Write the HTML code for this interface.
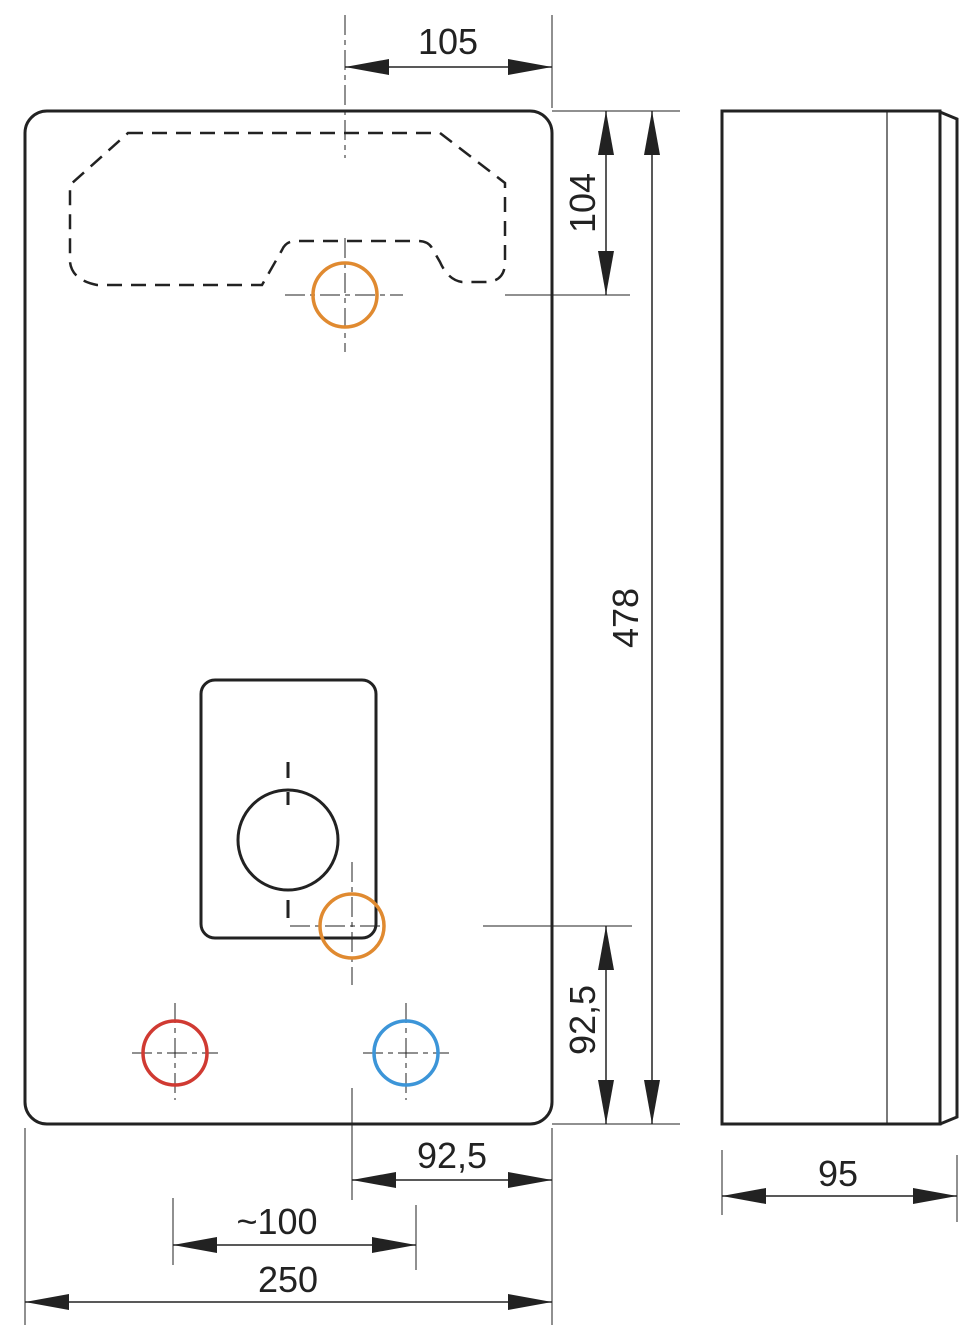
<!DOCTYPE html>
<html><head><meta charset="utf-8"><style>
html,body{margin:0;padding:0;background:#fff}
svg{display:block}
text{font-family:"Liberation Sans",sans-serif;font-size:36px;fill:#222}
</style></head><body>
<svg width="975" height="1344" viewBox="0 0 975 1344" xmlns="http://www.w3.org/2000/svg">
<defs>
<marker id="a" viewBox="0 0 44 16" refX="44" refY="8" markerWidth="44" markerHeight="16" markerUnits="userSpaceOnUse" orient="auto-start-reverse"><path d="M0,0 L44,8 L0,16 Z" fill="#222"/></marker>
</defs>
<g fill="none" stroke="#222">
<!-- main body -->
<rect x="25" y="111" width="527" height="1013" rx="22" stroke-width="3"/>
<!-- dashed cutout -->
<path d="M128,133 L440,133 L505,183 L505,262 Q505,282 485,282 L462,282 Q448,280 440,262 L432,248 Q428,241 418,241 L296,241 Q286,241 282,250 L262,285 L97,285 Q72,280 70,262 L70,185 Z" stroke-width="2.5" stroke-dasharray="15,9"/>
<!-- inner panel -->
<rect x="201" y="680" width="175" height="258" rx="14" stroke-width="3"/>
<circle cx="288" cy="840" r="50" stroke-width="3"/>
<path d="M288,762 V778 M288,792 V805 M288,900 V918" stroke-width="3"/>
<!-- centre lines -->
<g stroke-width="1" stroke-dasharray="20,5,5,5">
<path d="M345,15 V158"/>
<path d="M345,238 V352 M285,295 H403"/>
<path d="M352,862 V985 M290,926 H383"/>
<path d="M175,1003 V1100 M132,1053 H218"/>
<path d="M406,1003 V1100 M363,1053 H449"/>
</g>
<circle cx="345" cy="295" r="32" stroke="#e08a30" stroke-width="3.5"/>
<circle cx="352" cy="926" r="32" stroke="#e08a30" stroke-width="3.5"/>
<circle cx="175" cy="1053" r="32" stroke="#d03a32" stroke-width="3.5"/>
<circle cx="406" cy="1053" r="32" stroke="#3c95d8" stroke-width="3.5"/>
<!-- extension lines -->
<g stroke-width="1">
<path d="M552,15 V108 M552,111 H680 M505,295 H630 M483,926 H632 M552,1124 H680"/>
<path d="M352,1088 V1200 M552,1128 V1310 M25,1128 V1325 M552,1310 V1325 M173,1198 V1265 M416,1205 V1270"/>
<path d="M722,1150 V1215 M957,1155 V1222"/>
</g>
<!-- dimension lines -->
<g stroke-width="1.5" marker-start="url(#a)" marker-end="url(#a)">
<line x1="345" y1="67" x2="552" y2="67"/>
<line x1="606" y1="111" x2="606" y2="295"/>
<line x1="652" y1="111" x2="652" y2="1124"/>
<line x1="606" y1="926" x2="606" y2="1124"/>
<line x1="352" y1="1180" x2="552" y2="1180"/>
<line x1="173" y1="1245" x2="416" y2="1245"/>
<line x1="25" y1="1302" x2="552" y2="1302"/>
<line x1="722" y1="1196" x2="957" y2="1196"/>
</g>
<!-- side view -->
<path d="M722,111 H940 V1124 H722 Z" stroke-width="3"/>
<path d="M887,111 V1124" stroke-width="1.2"/>
<path d="M940,112 L957,119 V1117 L940,1124" stroke-width="3"/>
</g>
<g>
<text x="448" y="54" text-anchor="middle">105</text>
<text transform="translate(595,203) rotate(-90)" text-anchor="middle">104</text>
<text transform="translate(638,618) rotate(-90)" text-anchor="middle">478</text>
<text transform="translate(595,1020) rotate(-90)" text-anchor="middle">92,5</text>
<text x="452" y="1168" text-anchor="middle">92,5</text>
<text x="277" y="1234" text-anchor="middle">~100</text>
<text x="288" y="1292" text-anchor="middle">250</text>
<text x="838" y="1186" text-anchor="middle">95</text>
</g>
</svg>
</body></html>
